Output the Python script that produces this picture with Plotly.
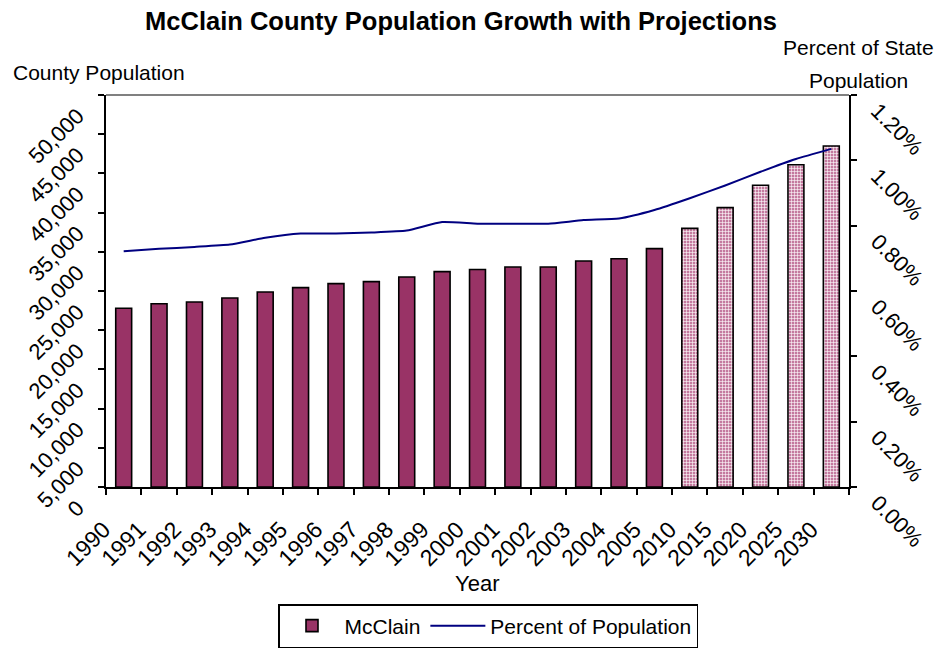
import plotly.graph_objects as go

# ---- data ----
years = ["1990", "1991", "1992", "1993", "1994", "1995", "1996", "1997", "1998",
         "1999", "2000", "2001", "2002", "2003", "2004", "2005",
         "2010", "2015", "2020", "2025", "2030"]
population = [22795, 23380, 23600, 24110, 24870, 25430, 25940, 26190, 26790,
              27470, 27740, 28060, 28060, 28830, 29120, 30400,
              32990, 35630, 38480, 41110, 43500]
percent_of_state = [0.00722, 0.00729, 0.00735, 0.00742, 0.00763, 0.00776, 0.00776,
                    0.00779, 0.00785, 0.00811, 0.00806, 0.00806, 0.00806, 0.00817,
                    0.00822, 0.00848, 0.00884, 0.00923, 0.00965, 0.01004, 0.01035]
n_actual = 16  # first 16 are estimates, the rest projections

OFF = 8  # page body margin
W, H = 951 - OFF, 651 - OFF
# plot area in screen pixels
L, R, T, B = 106, 849, 95, 487


def px(x):
    return (x - L) / (R - L)


def py(y):
    return (B - y) / (B - T)


FONT = "Liberation Sans, Arial, sans-serif"
PLUM = "#993366"
TICKSZ = 22

fig = go.Figure()
fig.add_trace(go.Bar(
    x=years[:n_actual], y=population[:n_actual], name="McClain",
    marker=dict(color=PLUM, line=dict(color="black", width=1.6)),
    width=0.45, yaxis="y"))
fig.add_trace(go.Bar(
    x=years[n_actual:], y=population[n_actual:], name="McClain projections",
    showlegend=False,
    marker=dict(color="#d8a6bf", line=dict(color="black", width=1.6),
                pattern=dict(shape="+", fgcolor="white", bgcolor="#c47a9f",
                             size=3, solidity=0.35, fillmode="replace")),
    width=0.45, yaxis="y"))
fig.add_trace(go.Scatter(
    x=years, y=percent_of_state, name="Percent of Population", mode="lines",
    line=dict(color="#000080", width=2, shape="spline", smoothing=0.5),
    yaxis="y2"))

fig.update_layout(
    width=W, height=H,
    margin=dict(l=L - OFF, r=W - (R - OFF), t=T - OFF, b=H - (B - OFF), autoexpand=False),
    paper_bgcolor="white", plot_bgcolor="white",
    font=dict(family=FONT, size=TICKSZ, color="black"),
    barmode="overlay",
    showlegend=True,
    legend=dict(orientation="h", x=px(488), xanchor="center", y=py(604), yanchor="top",
                bordercolor="black", borderwidth=1.5, bgcolor="white",
                font=dict(size=21), traceorder="normal", itemwidth=55),
    title=dict(text="<b>McClain County Population Growth with Projections</b>",
               x=(461 - OFF) / W, xanchor="center", y=1 - (21 - OFF) / H, yanchor="middle",
               font=dict(size=25.5, family=FONT)),
    xaxis=dict(type="category", categoryorder="array", categoryarray=years,
               tickangle=-45, showline=True, linecolor="black", linewidth=2,
               ticks="outside", ticklen=6, tickwidth=2, tickcolor="black",
               tickson="boundaries", showgrid=False, zeroline=False,
               automargin=False, ticklabelstandoff=18, ticklabelshift=-20,
               tickfont=dict(size=23)),
    yaxis=dict(range=[0, 50000], dtick=5000, tickformat=",d", tickangle=-45,
               showline=True, linecolor="black", linewidth=2,
               ticks="outside", ticklen=6, tickwidth=2, tickcolor="black",
               showgrid=False, zeroline=False, automargin=False,
               ticklabelstandoff=16, ticklabelshift=18,
               tickfont=dict(size=TICKSZ)),
    yaxis2=dict(range=[0, 0.012], dtick=0.002, tickformat=".2%", tickangle=45,
                overlaying="y", side="right",
                showline=True, linecolor="black", linewidth=2,
                ticks="outside", ticklen=6, tickwidth=2, tickcolor="black",
                showgrid=False, zeroline=False, automargin=False,
                ticklabelstandoff=16, ticklabelshift=13,
                tickfont=dict(size=TICKSZ)),
    shapes=[dict(type="line", xref="paper", yref="paper", x0=0, x1=1, y0=1, y1=1,
                 line=dict(color="#808080", width=2))],
    annotations=[
        dict(text="County Population", x=px(11), y=py(72), xref="paper", yref="paper",
             xanchor="left", yanchor="middle", showarrow=False, font=dict(size=21)),
        dict(text="Percent of State", x=px(858), y=py(48), xref="paper", yref="paper",
             xanchor="center", yanchor="middle", showarrow=False, font=dict(size=21)),
        dict(text="Population", x=px(858), y=py(80), xref="paper", yref="paper",
             xanchor="center", yanchor="middle", showarrow=False, font=dict(size=21)),
        dict(text="Year", x=px(477), y=py(583), xref="paper", yref="paper",
             xanchor="center", yanchor="middle", showarrow=False, font=dict(size=22)),
    ],
)

fig.write_html("out.html")
